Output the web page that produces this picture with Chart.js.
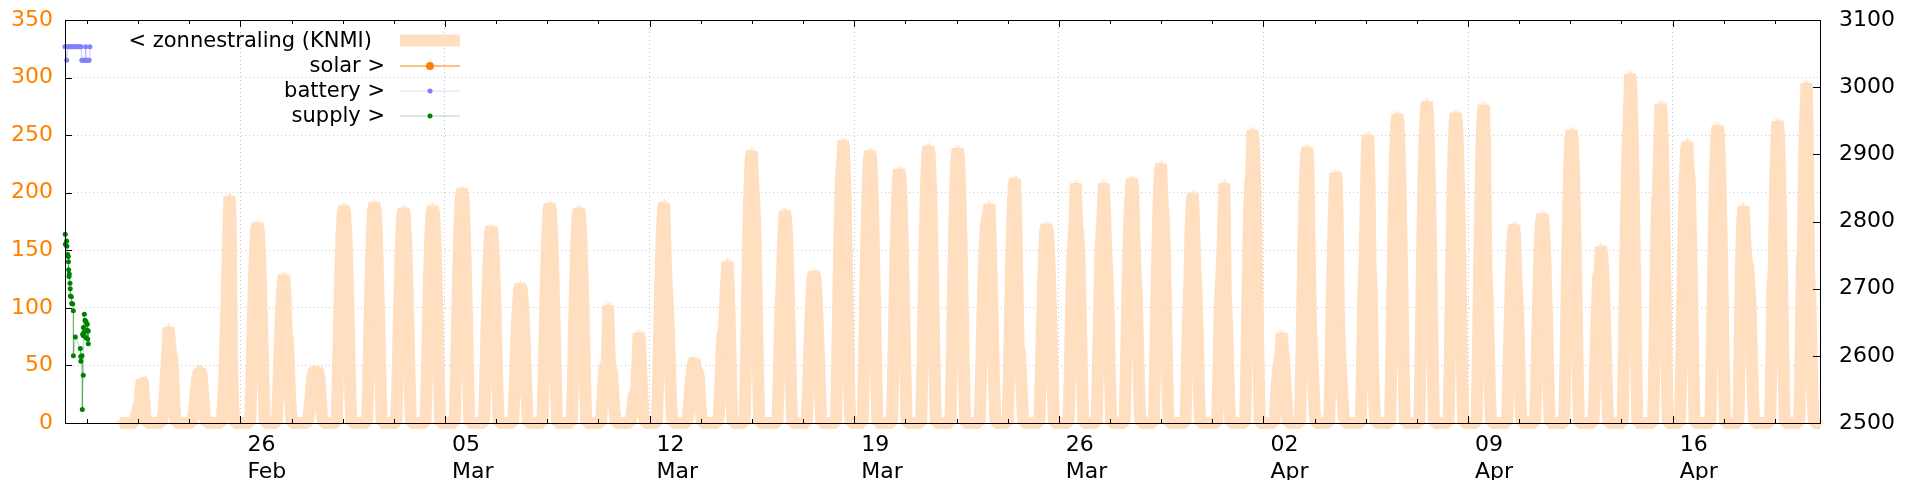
<!DOCTYPE html>
<html>
<head>
<meta charset="utf-8">
<script src="https://cdn.jsdelivr.net/npm/chart.js@4.4.1/dist/chart.umd.min.js"></script>
<style>
  html, body { margin: 0; padding: 0; background: #fff; overflow: hidden; }
  #wrap { width: 1920px; height: 480px; }
</style>
</head>
<body>
<div id="wrap"><canvas id="chart" width="1920" height="480"></canvas></div>
<script>
// x is in hours since 20 Feb 00:00
const xMin = 0;
const xMax = 1441;
const weekTicks = [144, 312, 480, 648, 816, 984, 1152, 1320];
const weekLabels = [['26', 'Feb'], ['05', 'Mar'], ['12', 'Mar'], ['19', 'Mar'],
                    ['26', 'Mar'], ['02', 'Apr'], ['09', 'Apr'], ['16', 'Apr']];

// zonnestraling (KNMI), one row per day from 22 Feb, hours 06..21
const zonFirstDay = 2;
const zonHours = [6, 7, 8, 9, 10, 11, 12, 13, 14, 15, 16, 17, 18, 19, 20, 21];
const zonStartHour = 45;   // 21 Feb 21:00
const zonEndHour = 1441;   // 21 Apr 01:00
const zonnestraling = [
    [0, 0, 0, 0, 5, 10, 14, 16, 28, 37, 36, 20, 7, 0, 0, 0],                 // 22 Feb
    [0, 0, 3, 10, 25, 45, 60, 83, 73, 60, 57, 37, 12, 0, 0, 0],
    [0, 0, 0, 5, 12, 22, 32, 42, 45, 45, 43, 32, 15, 4, 0, 0],
    [0, 0, 0, 5, 20, 45, 80, 120, 160, 197, 178, 60, 15, 0, 0, 0],
    [0, 0, 0, 35, 78, 118, 149, 168, 173, 168, 149, 118, 78, 35, 0, 0],
    [0, 26, 58, 87, 110, 124, 128, 110, 76, 74, 46, 20, 0, 0, 0, 0],
    [0, 0, 5, 15, 28, 40, 44, 47, 45, 47, 44, 38, 22, 6, 0, 0],
    [0, 0, 38, 85, 128, 162, 182, 188, 182, 162, 128, 85, 38, 0, 0, 0],      // 01 Mar
    [0, 0, 0, 38, 86, 130, 164, 185, 191, 185, 164, 130, 86, 38, 0, 0],
    [0, 0, 0, 37, 84, 126, 160, 180, 186, 180, 160, 126, 84, 37, 0, 0],
    [0, 0, 0, 38, 85, 128, 162, 182, 188, 182, 162, 128, 85, 38, 0, 0],
    [0, 0, 0, 41, 91, 138, 175, 197, 203, 197, 175, 138, 91, 41, 0, 0],
    [0, 0, 0, 34, 77, 116, 146, 165, 170, 165, 146, 116, 77, 34, 0, 0],
    [0, 0, 0, 24, 54, 82, 103, 116, 120, 116, 103, 82, 54, 24, 0, 0],
    [0, 0, 0, 38, 86, 129, 163, 184, 190, 184, 163, 129, 86, 38, 0, 0],
    [0, 0, 0, 37, 84, 126, 160, 180, 186, 180, 160, 126, 84, 37, 0, 0],
    [0, 0, 0, 15, 35, 48, 51, 52, 102, 60, 46, 45, 30, 12, 0, 0],
    [0, 0, 0, 5, 15, 24, 25, 30, 50, 78, 73, 50, 25, 6, 0, 0],
    [0, 38, 86, 130, 164, 185, 191, 150, 123, 100, 75, 40, 10, 0, 0, 0],
    [0, 0, 11, 25, 37, 47, 53, 55, 46, 45, 44, 30, 11, 0, 0, 0],
    [0, 0, 0, 8, 30, 60, 78, 80, 105, 125, 140, 120, 80, 30, 0, 0],
    [0, 47, 106, 160, 203, 229, 236, 209, 190, 160, 106, 47, 0, 0, 0, 0],
    [0, 0, 0, 0, 37, 83, 110, 138, 167, 184, 178, 158, 125, 83, 37, 0],
    [0, 0, 0, 0, 26, 59, 89, 113, 127, 131, 127, 113, 89, 59, 26, 0],
    [0, 0, 0, 0, 49, 110, 167, 211, 223, 245, 229, 190, 140, 80, 25, 0],
    [0, 0, 47, 106, 160, 203, 229, 236, 229, 203, 160, 106, 47, 0, 0, 0],
    [0, 0, 44, 99, 150, 189, 213, 220, 213, 189, 150, 99, 44, 0, 0, 0],
    [0, 0, 48, 108, 163, 206, 233, 240, 233, 206, 163, 108, 48, 0, 0, 0],
    [0, 0, 48, 107, 162, 205, 231, 238, 231, 205, 162, 107, 48, 0, 0, 0],
    [0, 0, 36, 80, 120, 150, 170, 178, 180, 190, 160, 120, 70, 30, 0, 0],
    [0, 42, 95, 144, 182, 206, 212, 180, 120, 64, 62, 40, 15, 0, 0, 0],
    [0, 0, 0, 34, 77, 117, 148, 168, 172, 167, 148, 117, 77, 34, 0, 0],
    [0, 0, 0, 42, 94, 141, 157, 175, 208, 171, 165, 141, 94, 42, 0, 0],
    [0, 0, 42, 94, 141, 165, 180, 208, 180, 146, 125, 94, 42, 0, 0, 0],
    [0, 42, 95, 144, 182, 200, 212, 203, 160, 133, 110, 70, 25, 0, 0, 0],
    [0, 45, 101, 153, 194, 218, 225, 196, 180, 153, 101, 45, 0, 0, 0, 0],
    [0, 0, 0, 40, 90, 112, 160, 190, 199, 175, 133, 115, 80, 35, 0, 0],
    [0, 0, 0, 0, 0, 42, 94, 120, 138, 170, 208, 113, 90, 50, 15, 0],
    [0, 0, 0, 0, 51, 114, 173, 207, 216, 254, 246, 218, 173, 114, 51, 0],    // 01 Apr
    [0, 0, 0, 0, 16, 35, 45, 54, 60, 78, 64, 53, 35, 16, 0, 0],
    [0, 48, 108, 163, 206, 232, 239, 220, 150, 86, 60, 35, 10, 0, 0, 0],
    [0, 43, 98, 148, 187, 217, 214, 177, 87, 60, 40, 20, 5, 0, 0, 0],
    [0, 0, 0, 50, 113, 139, 190, 243, 250, 215, 133, 113, 50, 15, 0, 0],
    [0, 0, 0, 54, 121, 182, 230, 258, 268, 260, 230, 182, 121, 54, 0, 0],
    [0, 0, 0, 56, 126, 190, 240, 262, 279, 271, 240, 190, 126, 56, 0, 0],
    [0, 0, 0, 54, 121, 183, 231, 261, 269, 261, 231, 183, 121, 54, 0, 0],
    [0, 0, 55, 124, 188, 237, 268, 276, 240, 135, 110, 70, 25, 0, 0, 0],
    [0, 0, 0, 35, 78, 117, 147, 167, 172, 150, 117, 100, 60, 20, 0, 0],
    [0, 0, 36, 81, 123, 156, 176, 181, 176, 156, 123, 81, 36, 0, 0, 0],
    [0, 0, 51, 114, 173, 218, 246, 254, 246, 218, 173, 114, 51, 0, 0, 0],
    [0, 0, 31, 69, 104, 128, 130, 153, 148, 132, 104, 69, 31, 0, 0, 0],
    [0, 0, 61, 136, 196, 240, 260, 303, 294, 261, 206, 136, 61, 0, 0, 0],
    [0, 0, 0, 55, 125, 188, 205, 240, 277, 269, 238, 188, 125, 55, 0, 0],
    [0, 49, 110, 166, 210, 237, 244, 221, 210, 166, 110, 49, 0, 0, 0, 0],
    [0, 0, 52, 116, 175, 222, 250, 258, 250, 222, 175, 116, 52, 0, 0, 0],
    [0, 60, 130, 170, 188, 175, 150, 138, 138, 120, 100, 60, 20, 0, 0, 0],
    [0, 0, 0, 52, 118, 133, 200, 239, 262, 254, 225, 178, 118, 52, 0, 0],
    [0, 0, 0, 59, 133, 157, 230, 270, 295, 250, 132, 110, 60, 20, 0, 0]      // 20 Apr
];

// right axis series
const batteryHours = [0, 0.7, 1.4, 2.1, 2.9, 3.7, 4.5, 5.3, 6.1, 6.9, 7.7, 8.5, 9.3, 10.1,
                      11.5, 12.3, 13.1, 13.8, 14.6, 15.4, 16.2, 17.0, 17.6, 18.3, 19.0, 19.8, 20.5];
const batteryValues = [3060, 3060, 3040, 3060, 3060, 3060, 3060, 3060, 3060, 3060, 3060, 3060, 3060, 3060,
                       3060, 3060, 3060, 3040, 3040, 3040, 3040, 3060, 3040, 3040, 3040, 3040, 3060];

const supplyHours = [0.2, 0.3, 1.4, 1.5, 2.2, 2.7, 2.8, 3.0, 3.3, 3.5, 4.1, 4.3, 4.4, 5.2, 5.5, 6.3, 6.8, 6.9, 8.5,
                     12.6, 12.9, 13.0, 14.0, 14.2, 15.0, 15.1, 14.5, 15.1, 15.9, 15.6, 16.4, 17.2, 17.2, 18.3,
                     18.3, 18.6, 19.1, 19.1];
const supplyValues = [2781, 2766, 2771, 2763, 2751, 2748, 2740, 2728, 2718, 2722, 2708, 2700, 2689, 2688, 2678,
                      2677, 2667, 2600, 2628, 2611, 2599, 2592, 2600, 2520, 2571, 2630, 2632, 2642, 2662, 2635,
                      2653, 2651, 2627, 2647, 2638, 2625, 2637, 2618];

const solarHours = [];
const solarValues = [];

const PEACH = '#ffdfbf';
const ORANGE = '#ff8000';
const GRID = '#c8c8c8';
const FONT = 'DejaVu Sans';

const zonData = [{ x: zonStartHour, y: 0 }];
zonnestraling.forEach((row, i) => {
    row.forEach((v, j) => zonData.push({ x: (zonFirstDay + i) * 24 + zonHours[j], y: v }));
});
zonData.push({ x: zonEndHour, y: 0 });

const pairs = (xs, ys) => xs.map((x, i) => ({ x: x, y: ys[i] }));

// y axes: fixed width, and no extra room above the plot for the labels
const fixWidth = w => s => { s.width = w; s.paddingTop = 0; s.paddingBottom = 0; };

// gnuplot-like frame, inward ticks and key
const keyRight = [372, 385, 385, 385];
const framePlugin = {
    id: 'frame',
    afterDraw(chart) {
        const { ctx, chartArea: a, scales } = chart;
        ctx.save();
        ctx.strokeStyle = '#000';
        ctx.lineWidth = 1;
        ctx.beginPath();
        const px = v => Math.round(v) + 0.5;
        // x ticks, major and minor, bottom and top
        for (let h = 18; h <= xMax; h += 42) {
            const x = px(scales.x.getPixelForValue(h));
            const len = weekTicks.includes(h) ? 7 : 4;
            ctx.moveTo(x, a.bottom); ctx.lineTo(x, a.bottom - len);
            ctx.moveTo(x, a.top); ctx.lineTo(x, a.top + len);
        }
        for (let v = 50; v < 350; v += 50) {
            const y = px(scales.y.getPixelForValue(v));
            ctx.moveTo(a.left, y); ctx.lineTo(a.left + 7, y);
        }
        for (let v = 2600; v < 3100; v += 100) {
            const y = px(scales.y2.getPixelForValue(v));
            ctx.moveTo(a.right, y); ctx.lineTo(a.right - 7, y);
        }
        ctx.stroke();
        ctx.strokeRect(px(a.left), px(a.top), Math.round(a.right - a.left), Math.round(a.bottom - a.top));

        // key
        ctx.font = '21px "' + FONT + '"';
        ctx.textAlign = 'right';
        ctx.textBaseline = 'middle';
        chart.data.datasets.forEach((ds, i) => {
            const y = 40.5 + 25 * i;
            ctx.fillStyle = '#000';
            ctx.fillText(ds.label, keyRight[i], y + 1);
            if (i === 0) {
                ctx.fillStyle = PEACH;
                ctx.fillRect(400, y - 6, 60, 12);
            } else {
                ctx.strokeStyle = ds.legendLine;
                ctx.beginPath();
                ctx.moveTo(400, y + 0.5); ctx.lineTo(460, y + 0.5);
                ctx.stroke();
                ctx.fillStyle = ds.pointBackgroundColor;
                ctx.beginPath();
                ctx.arc(430, y + 0.5, ds.pointRadius, 0, Math.PI * 2);
                ctx.fill();
            }
        });
        ctx.restore();
    }
};

document.addEventListener('DOMContentLoaded', () => {
    Chart.defaults.font.family = FONT;
    new Chart(document.getElementById('chart'), {
        type: 'line',
        data: {
            datasets: [{
                label: '< zonnestraling (KNMI)',
                data: zonData,
                yAxisID: 'y',
                order: 5,
                borderColor: PEACH,
                borderWidth: 12,
                borderJoinStyle: 'bevel',
                borderDash: [100000, 0],   // keeps every hourly vertex in the path
                tension: 0,
                pointStyle: 'star',
                pointRadius: 4,
                pointBorderColor: PEACH,
                pointBackgroundColor: PEACH,
                pointBorderWidth: 1,
                clip: { left: 0, top: 0, right: 8, bottom: 8 }
            }, {
                label: 'solar >',
                data: pairs(solarHours, solarValues),
                yAxisID: 'y2',
                order: 3,
                borderColor: ORANGE,
                legendLine: ORANGE,
                borderWidth: 1,
                pointRadius: 4,
                pointBackgroundColor: ORANGE,
                pointBorderWidth: 0
            }, {
                label: 'battery >',
                data: pairs(batteryHours, batteryValues),
                yAxisID: 'y2',
                order: 2,
                borderColor: 'rgba(128,128,255,0.45)',
                legendLine: 'rgba(128,128,255,0.25)',
                borderWidth: 1,
                pointRadius: 2.5,
                pointBackgroundColor: '#8080ff',
                pointBorderWidth: 0,
                clip: false
            }, {
                label: 'supply >',
                data: pairs(supplyHours, supplyValues),
                yAxisID: 'y2',
                order: 1,
                borderColor: 'rgba(0,128,0,0.3)',
                legendLine: 'rgba(0,128,0,0.3)',
                borderWidth: 1,
                pointRadius: 2.5,
                pointBackgroundColor: '#008000',
                pointBorderWidth: 0,
                clip: false
            }]
        },
        options: {
            responsive: false,
            animation: false,
            events: [],
            layout: { padding: { top: 20 } },
            plugins: { legend: { display: false }, tooltip: { enabled: false } },
            scales: {
                x: {
                    type: 'linear',
                    min: xMin,
                    max: xMax,
                    z: 1,
                    afterBuildTicks: s => { s.ticks = weekTicks.map(v => ({ value: v })); },
                    afterFit: s => { s.height = 57; },
                    grid: { color: GRID, lineWidth: 1, drawTicks: false },
                    border: { display: false, dash: [1, 3] },
                    ticks: {
                        autoSkip: false,
                        maxRotation: 0,
                        align: 'start',
                        labelOffset: 7,
                        padding: 9,
                        color: '#000',
                        font: { size: 22, lineHeight: 1.23 },
                        callback: v => weekLabels[weekTicks.indexOf(v)]
                    }
                },
                y: {
                    position: 'left',
                    min: 0,
                    max: 350,
                    z: 1,
                    afterFit: fixWidth(65),
                    grid: {
                        color: c => (c.tick.value === 0 || c.tick.value === 350) ? 'rgba(0,0,0,0)' : GRID,
                        lineWidth: 1,
                        drawTicks: false
                    },
                    border: { display: false, dash: [1, 3] },
                    ticks: { stepSize: 50, color: ORANGE, padding: 12, font: { size: 22 } }
                },
                y2: {
                    position: 'right',
                    min: 2500,
                    max: 3100,
                    afterFit: fixWidth(100),
                    grid: { display: false, drawTicks: false },
                    border: { display: false },
                    ticks: { stepSize: 100, color: '#000', padding: 19, font: { size: 22 },
                             callback: v => String(v) }
                }
            }
        },
        plugins: [framePlugin]
    });
});
</script>
</body>
</html>
